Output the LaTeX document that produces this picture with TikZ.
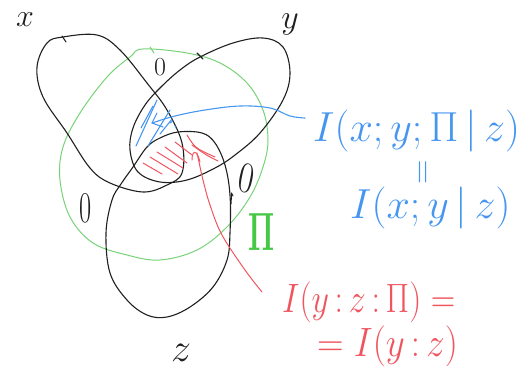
\RequirePackage{fix-cm}
\documentclass[tikz,border=0pt]{standalone}
\usepackage{graphicx}
\definecolor{pblue}{RGB}{70,150,240}
\definecolor{pred}{RGB}{240,85,95}
\definecolor{pgreen}{RGB}{120,210,120}
\definecolor{pigreen}{RGB}{70,200,70}
\begin{document}
\begin{tikzpicture}[x=1pt,y=-1pt,line cap=round,line join=round,
  outline/.style={draw=black!88,line width=1.1pt},
  greenline/.style={draw=pgreen,line width=1pt},
  bluepen/.style={draw=pblue,line width=1.1pt},
  redpen/.style={draw=pred,line width=1pt},
  lab/.style={inner sep=0pt,text=black!88},
  bluetxt/.style={inner sep=0pt,text=pblue,font=\fontsize{42}{42}\selectfont},
  redtxt/.style={inner sep=0pt,text=pred,font=\fontsize{41}{41}\selectfont}]
\useasboundingbox (0,0) rectangle (530,370);
% green circle Pi
\draw[greenline] plot[smooth cycle,tension=0.6] coordinates {(143,49) (187,53) (220,63) (247,83) (263,110) (268,140) (263,167) (250,197) (227,227) (197,250) (160,260) (127,255) (93,243) (70,217) (60,180) (63,147) (80,113) (107,77) (130,57)};
% ellipse x
\draw[outline] plot[smooth cycle,tension=0.6] coordinates {(37,67) (47,43) (63,37) (97,35) (120,50) (147,83) (167,110) (182,143) (182,173) (167,185) (143,192) (110,183) (90,168) (67,133) (43,97)};
% ellipse y
\draw[outline] plot[smooth cycle,tension=0.6] coordinates {(130,150) (133,128) (145,105) (161,87) (180,70) (200,57) (233,43) (263,38) (283,47) (290,73) (283,100) (260,133) (235,155) (215,168) (187,180) (160,182) (138,172)};
% ellipse z
\draw[outline] plot[smooth cycle,tension=0.6] coordinates {(133,167) (147,147) (160,138) (178,132) (202,133) (215,143) (225,165) (230,195) (230,233) (227,260) (213,287) (190,307) (167,317) (147,315) (127,300) (110,273) (106,233) (112,200) (121,184)};
% pen ticks
\draw[outline] (62,36) -- (66,42);
\draw[outline] (197,53) -- (203,59);
\draw[greenline] (150,47) -- (154,53);
\draw[outline] (231,204) -- (231.5,193) -- (233,196);
% blue hatching
\draw[bluepen] (136,146) -- (157,100);
\draw[bluepen] (141,128) -- (153,106);
\draw[bluepen] (148,146) -- (170,110);
\draw[bluepen] (160,134) -- (172,119);
\draw[bluepen] (170,123) -- (173,121);
\draw[bluepen] (175,126) -- (176,128);
% red hatching
\draw[redpen] (143,163) -- (162,174);
\draw[redpen] (150,157) -- (178,174);
\draw[redpen] (157,152) -- (183,168);
\draw[redpen] (165,147) -- (187,163);
\draw[redpen] (175,142) -- (192,155);
\draw[redpen] (187,135) .. controls (195,148) .. (215,157);
\draw[redpen] (192,145) .. controls (206,155) .. (218,161);
% labels
\node[lab,font=\fontsize{32}{32}\selectfont] (lx) at (25,20) {$x$};
\node[lab,font=\fontsize{34}{34}\selectfont] (ly) at (290,24) {$y$};
\node[lab,font=\fontsize{40}{40}\selectfont] (lz) at (181,353) {$z$};
\node[lab,font=\fontsize{26}{26}\selectfont] (o1) at (160,67) {0};
\node[lab,font=\fontsize{44}{44}\selectfont,xscale=0.6] (o2) at (86,208) {0};
\node[lab,font=\fontsize{44}{44}\selectfont,xscale=0.75,rotate=-15] (o3) at (247,178) {0};
\node[inner sep=0pt,text=pigreen,font=\fontsize{54}{54}\selectfont,xscale=0.55] (pi) at (262,232) {$\mathbf{\Pi}$};
% texts
\node[bluetxt,anchor=base west] (b1) at (313,141) {$I(x;y;\Pi\,|\,z)$};
\node[inner sep=0pt,text=pblue,font=\fontsize{34}{34}\selectfont,rotate=90] (beq) at (425,172) {$=$};
\node[bluetxt,anchor=base west] (b2) at (350,218) {$I(x;y\,|\,z)$};
\node[redtxt,anchor=base west,xscale=0.83] (r1) at (282,312) {$I(y\,{:}\,z\,{:}\,\Pi)\;{=}$};
\node[redtxt,anchor=base west,xscale=0.9] (r2) at (317,356) {${=}\;I(y\,{:}\,z)$};
% leaders
\coordinate (bs) at ([xshift=-8pt,yshift=23pt]b1.base west);
\coordinate (bend) at (152,123);
\draw[bluepen] plot[smooth,tension=0.6] coordinates {(bs) (290,116) (270,108) (240,106) (205,110) (175,116) (bend)};
\draw[bluepen] (157,113) -- (bend) -- (163,127);
\coordinate (rs) at (262,292);
\coordinate (rend) at (197,153);
\draw[redpen] plot[smooth,tension=0.6] coordinates {(rs) (245,270) (222,235) (210,205) (203,180) (199,162) (rend)};
\draw[redpen] (192,160) .. controls (192,150) and (197,149) .. (200,162);
\end{tikzpicture}
\end{document}
